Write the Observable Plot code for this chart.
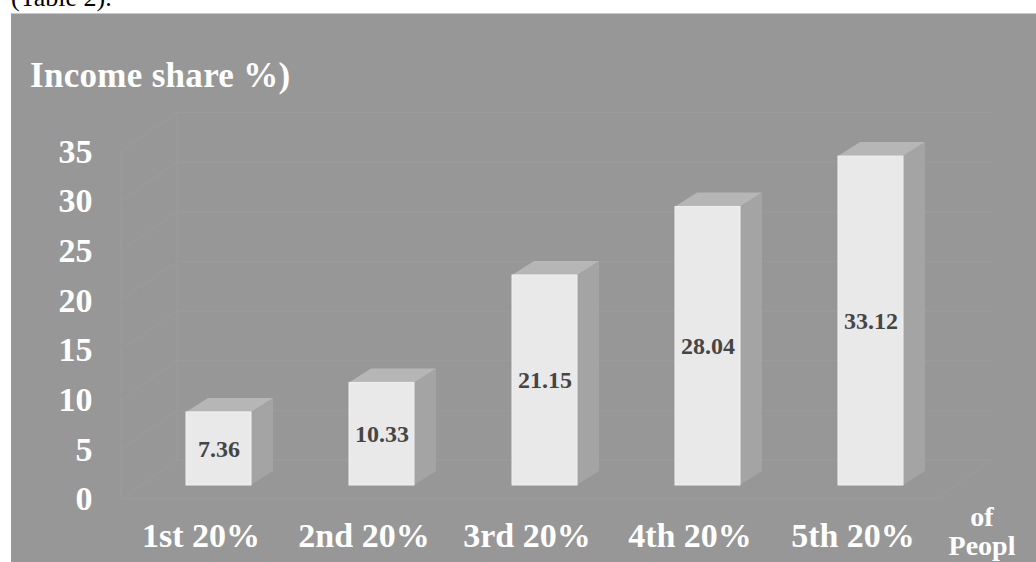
<!DOCTYPE html>
<html>
<head>
<meta charset="utf-8">
<script src="https://cdn.jsdelivr.net/npm/d3@7"></script>
<script src="https://cdn.jsdelivr.net/npm/@observablehq/plot@0.6"></script>
<style>
  html, body { margin: 0; padding: 0; background: #ffffff; }
  #top { position: relative; height: 13px; overflow: hidden; width: 1036px; }
  #top span { position: absolute; left: 11px; top: -15px; font: 26px/1 "Liberation Serif", serif; color: #000; white-space: nowrap; }
  #panel { position: relative; margin-left: 11px; width: 1025px; height: 548px; background: #979797; border-top: 1px solid #c9c9c9; overflow: hidden; }
  .lbl { position: absolute; font-family: "Liberation Serif", serif; font-weight: bold; color: #ffffff; line-height: 1; white-space: nowrap; }
  #title { left: 29px; top: 44px; font-size: 35px; letter-spacing: 0.3px; }
  .xt { width: 100px; left: 921px; text-align: center; font-size: 28px; }
</style>
</head>
<body>
<div id="top"><span>(Table 2).</span></div>
<div id="panel">
  <div id="chart"></div>
  <div class="lbl" id="title" style="left:19px">Income share %)</div>
  <div class="lbl xt" style="top:489px">of</div>
  <div class="lbl xt" style="top:518px">Peopl</div>
</div>
<script>
const categories = ["1st 20%", "2nd 20%", "3rd 20%", "4th 20%", "5th 20%"];
const shares = [7.36, 10.33, 21.15, 28.04, 33.12];
const yTicks = [0, 5, 10, 15, 20, 25, 30, 35];

const data = categories.map((c, i) => ({cat: c, val: shares[i]}));

const FONT = "'Liberation Serif', 'Times New Roman', serif";

// faint 3D back-wall grid
function grid(index, scales) {
  const {y} = scales;
  const g = d3.create("svg:g").attr("fill", "none").attr("stroke", "#9c9c9c").attr("stroke-width", 1);
  const lx = 110, bx = 166, rx = 981, fy = 14, by = -25;
  for (const v of yTicks) {
    g.append("path").attr("d", `M${lx},${y(v) + fy}L${bx},${y(v) + by}L${rx},${y(v) + by}`);
  }
  const top = yTicks[yTicks.length - 1];
  g.append("path").attr("d", `M${lx},${y(top) + fy}L${lx},${y(0) + fy}`);
  g.append("path").attr("d", `M${bx},${y(top) + by}L${bx},${y(0) + by}`);
  g.append("path").attr("d", `M${lx},${y(0) + fy}L${925},${y(0) + fy}L${rx},${y(0) + by}`);
  return g.node();
}

// top and side faces of the 3D bars
function depth(index, scales) {
  const {x, y} = scales;
  const bw = typeof x.bandwidth === "function" ? x.bandwidth() : x.bandwidth;
  const DX = 22, DY = -14;
  const g = d3.create("svg:g");
  for (const d of data) {
    const xl = x(d.cat), xr = xl + bw, y0 = y(0), y1 = y(d.val);
    g.append("path")
      .attr("d", `M${xr},${y0}L${xr + DX},${y0 + DY}L${xr + DX},${y1 + DY}L${xr},${y1}Z`)
      .attr("fill", "#a4a4a4");
    g.append("path")
      .attr("d", `M${xl},${y1}L${xl + DX},${y1 + DY}L${xr + DX},${y1 + DY}L${xr},${y1}Z`)
      .attr("fill", "#b6b6b6");
  }
  return g.node();
}

const chart = Plot.plot({
  width: 1025,
  height: 548,
  marginLeft: 166,
  marginRight: 44,
  marginTop: 123.4,
  marginBottom: 77,
  style: {background: "transparent", fontFamily: FONT, overflow: "visible"},
  x: {domain: categories, range: [126, 941], paddingInner: 0.6, paddingOuter: 0.3, label: null},
  y: {domain: [0, 35], label: null},
  marks: [
    grid,
    Plot.axisY(yTicks, {
      tickSize: 0, tickPadding: 85, dy: 14, fontSize: 34, fontWeight: "bold",
      fill: "#ffffff", fontFamily: FONT, label: null
    }),
    Plot.axisX({
      tickSize: 0, tickPadding: 37, dx: -18, fontSize: 34, fontWeight: "bold",
      fill: "#ffffff", fontFamily: FONT, label: null
    }),
    depth,
    Plot.barY(data, {x: "cat", y: "val", fill: "#e9e9e9", stroke: "#f1f1f1", strokeWidth: 1}),
    Plot.text(data, {
      x: "cat", y: d => d.val / 2, text: d => d.val.toFixed(2),
      fill: "#454545", fontSize: 24, fontWeight: "bold", fontFamily: FONT
    })
  ]
});
document.getElementById("chart").appendChild(chart);
</script>
</body>
</html>
